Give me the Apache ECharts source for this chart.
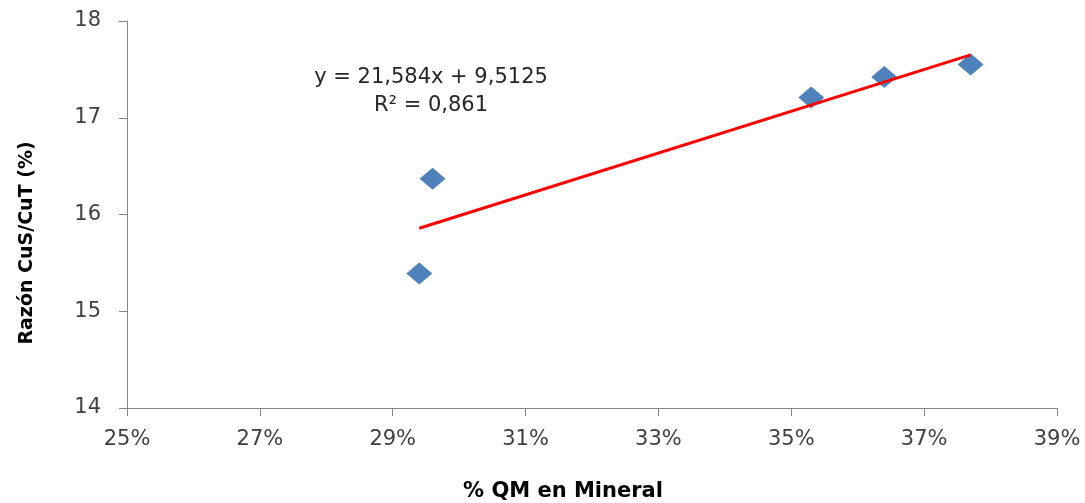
<!DOCTYPE html>
<html><head><meta charset="utf-8">
<script src="https://cdn.jsdelivr.net/npm/echarts@6/dist/echarts.min.js"></script>
<style>html,body{margin:0;padding:0;background:#fff}#c{width:1085px;height:503px}</style>
</head><body><div id="c"></div>
<script>
var qmValues = [0.294, 0.296, 0.353, 0.364, 0.377];
var ratioValues = [15.39, 16.37, 17.21, 17.42, 17.55];
var xTicks = [0.25, 0.27, 0.29, 0.31, 0.33, 0.35, 0.37, 0.39];
var trendSlope = 21.584, trendIntercept = 9.5125;
var eqText = 'y = 21,584x + 9,5125';
var r2Text = 'R² = 0,861';

var pts = qmValues.map(function(x,i){return [x, ratioValues[i]];});
var xmin = Math.min.apply(null, qmValues), xmax = Math.max.apply(null, qmValues);
var trend = [[xmin, trendSlope*xmin+trendIntercept],[xmax, trendSlope*xmax+trendIntercept]];
var font = '"DejaVu Sans", sans-serif';
var chart = echarts.init(document.getElementById('c'));
chart.setOption({
  animation:false,
  grid:{left:127,right:28,top:21,bottom:95,containLabel:false},
  xAxis:{type:'value',min:0.25,max:0.39,
    axisLine:{show:true,lineStyle:{color:'#868686',width:1}},
    axisTick:{show:true,length:8,customValues:xTicks,lineStyle:{color:'#868686'}},
    axisLabel:{customValues:xTicks,margin:21,fontSize:21,color:'#404040',fontFamily:font,
      formatter:function(v){return Math.round(v*100)+'%';}},
    splitLine:{show:false}},
  yAxis:{type:'value',min:14,max:18,interval:1,
    axisLine:{show:true,lineStyle:{color:'#868686',width:1}},
    axisTick:{show:true,length:8,lineStyle:{color:'#868686'}},
    axisLabel:{margin:26,fontSize:21,color:'#404040',fontFamily:font},
    splitLine:{show:false}},
  graphic:[
    {type:'text',x:27,y:243,rotation:Math.PI/2,style:{text:'Razón CuS/CuT (%)',font:'bold 19px '+font,fill:'#000',align:'center',verticalAlign:'middle'}},
    {type:'text',x:563,y:492,style:{text:'% QM en Mineral',font:'bold 21px '+font,fill:'#000',align:'center',verticalAlign:'middle'}},
    {type:'text',x:431,y:78,style:{text:eqText,font:'21px '+font,fill:'#262626',align:'center',verticalAlign:'middle'}},
    {type:'text',x:431,y:106,style:{text:r2Text,font:'21px '+font,fill:'#262626',align:'center',verticalAlign:'middle'}}
  ],
  series:[
    {type:'line',data:trend,symbol:'none',lineStyle:{color:'#FF0000',width:3},z:3},
    {type:'scatter',data:pts,symbol:'diamond',symbolSize:[26,22],itemStyle:{color:'#4F81BD',opacity:1},z:2}
  ]
});
</script></body></html>
